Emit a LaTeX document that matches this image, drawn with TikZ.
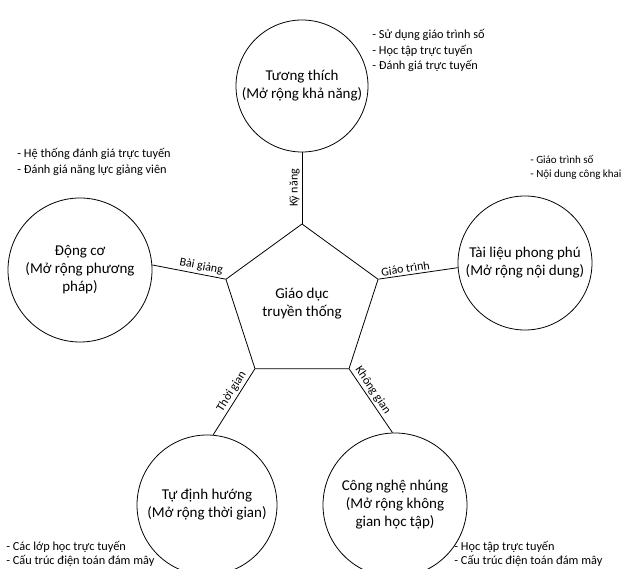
\documentclass[tikz,border=0pt]{standalone}
\usepackage{fontspec}
\setmainfont{Carlito}
\usetikzlibrary{shapes.geometric}
\begin{document}
\begin{tikzpicture}[x=1pt,y=-1pt,
  line width=0.8pt,
  bigcirc/.style={draw, circle, inner sep=0pt, align=center, font=\fontsize{15}{18}\selectfont},
  pent/.style={draw, regular polygon, regular polygon sides=5, minimum size=160pt, inner sep=0pt, align=center, font=\fontsize{15}{18}\selectfont},
  edgelbl/.style={font=\fontsize{12}{14}\selectfont, sloped, above, inner sep=2pt},
  bullets/.style={anchor=north west, align=left, inner sep=0pt, font=\fontsize{12.3}{15.5}\selectfont}]
\useasboundingbox (0,0) rectangle (633,569);

\node[pent] (edu) at (302,304) {Giáo dục\\truyền thống};

\node[bigcirc, minimum size=132pt] (top) at (302,86) {Tương thích\\(Mở rộng khả năng)};
\node[bigcirc, minimum size=144pt] (dong) at (80,270) {Động cơ\\(Mở rộng phương\\pháp)};
\node[bigcirc, minimum size=134pt] (tai) at (525,263) {Tài liệu phong phú\\(Mở rộng nội dung)};
\node[bigcirc, minimum size=140pt] (tu) at (207,505) {Tự định hướng\\(Mở rộng thời gian)};
\node[bigcirc, minimum size=144pt] (cong) at (395,505) {Công nghệ nhúng\\(Mở rộng không\\gian học tập)};

\draw (edu.corner 1) -- (top.south) node[edgelbl, midway] {Kỹ năng};
\draw (dong.4) -- (edu.corner 2) node[edgelbl, pos=0.65] {Bài giảng};
\draw (edu.corner 5) -- (tai.184) node[edgelbl, pos=0.35] {Giáo trình};
\draw (tu.85) -- (edu.corner 3) node[edgelbl, pos=0.6] {Thời gian};
\draw (edu.corner 4) -- (cong.92) node[edgelbl, pos=0.4] {Không gian};

\node[bullets] (b1) at (372,29) {- Sử dụng giáo trình số\\- Học tập trực tuyến\\- Đánh giá trực tuyến};
\node[bullets] (b2) at (17,148) {- Hệ thống đánh giá trực tuyến\\- Đánh giá năng lực giảng viên};
\node[bullets, font=\fontsize{11}{13.5}\selectfont] (b3) at (530,155) {- Giáo trình số\\- Nội dung công khai};
\node[bullets, font=\fontsize{12.3}{14}\selectfont] (b4) at (6,541) {- Các lớp học trực tuyến\\- Cấu trúc điện toán đám mây};
\node[bullets, font=\fontsize{12.3}{14}\selectfont] (b5) at (454,541) {- Học tập trực tuyến\\- Cấu trúc điện toán đám mây};
\end{tikzpicture}
\end{document}
